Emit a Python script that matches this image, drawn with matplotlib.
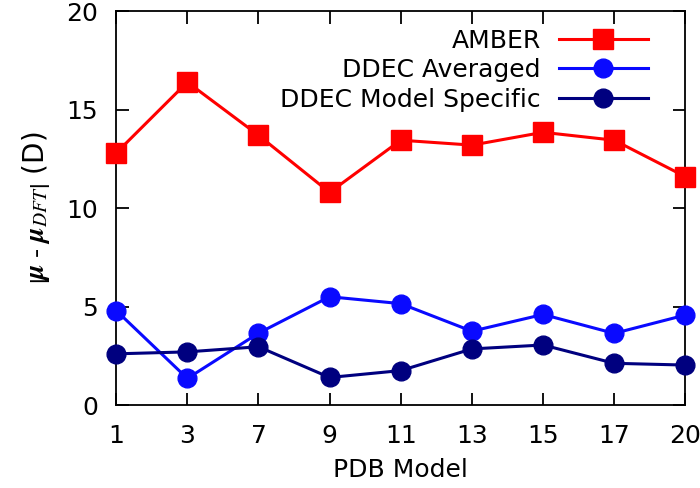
"""Dipole error per PDB model."""
import matplotlib
matplotlib.use("Agg")
import matplotlib.pyplot as plt

plt.rcParams["font.family"] = ["DejaVu Sans"]
plt.rcParams["mathtext.fontset"] = "stix"

models = ["1", "3", "7", "9", "11", "13", "15", "17", "20"]
amber = [12.8, 16.4, 13.7, 10.8, 13.45, 13.2, 13.85, 13.45, 11.6]
ddec_avg = [4.8, 1.35, 3.65, 5.5, 5.15, 3.75, 4.6, 3.64, 4.57]
ddec_specific = [2.6, 2.7, 2.96, 1.4, 1.75, 2.85, 3.05, 2.12, 2.03]

fig = plt.figure(figsize=(7, 4.88), dpi=100)
ax = fig.add_axes([0.166, 0.17, 0.813, 0.807])

x = list(range(len(models)))
ax.plot(x, amber, color="#ff0000", marker="s", markersize=14, linewidth=2.2,
        label="AMBER", clip_on=False, zorder=3)
ax.plot(x, ddec_avg, color="#0a0aff", marker="o", markersize=13.5, linewidth=2.2,
        label="DDEC Averaged", clip_on=False, zorder=3)
ax.plot(x, ddec_specific, color="#00007f", marker="o", markersize=13.5, linewidth=2.2,
        label="DDEC Model Specific", clip_on=False, zorder=3)

ax.set_xlim(0, len(models) - 1)
ax.set_ylim(0, 20)
ax.set_xticks(x)
ax.set_xticklabels(models)
ax.set_yticks([0, 5, 10, 15, 20])
ax.tick_params(direction="in", length=9, width=1.3, top=True, right=True,
               labelsize=18)
ax.tick_params(axis="x", pad=14)
ax.tick_params(axis="y", pad=13)
for s in ax.spines.values():
    s.set_linewidth(1.3)

ax.set_xlabel("PDB Model", fontsize=18, labelpad=7)
ax.set_ylabel(r"$\left|\boldsymbol{\mu}\ \text{-}\ \boldsymbol{\mu}_{DFT}\right|$ (D)",
              fontsize=20, labelpad=10)

ax.legend(loc="upper right", markerfirst=False, frameon=False, fontsize=18,
          handlelength=3.56, labelspacing=0.22, handletextpad=0.72,
          borderaxespad=0.3, bbox_to_anchor=(0.965, 1.0))

fig.savefig("out.png", dpi=100)
